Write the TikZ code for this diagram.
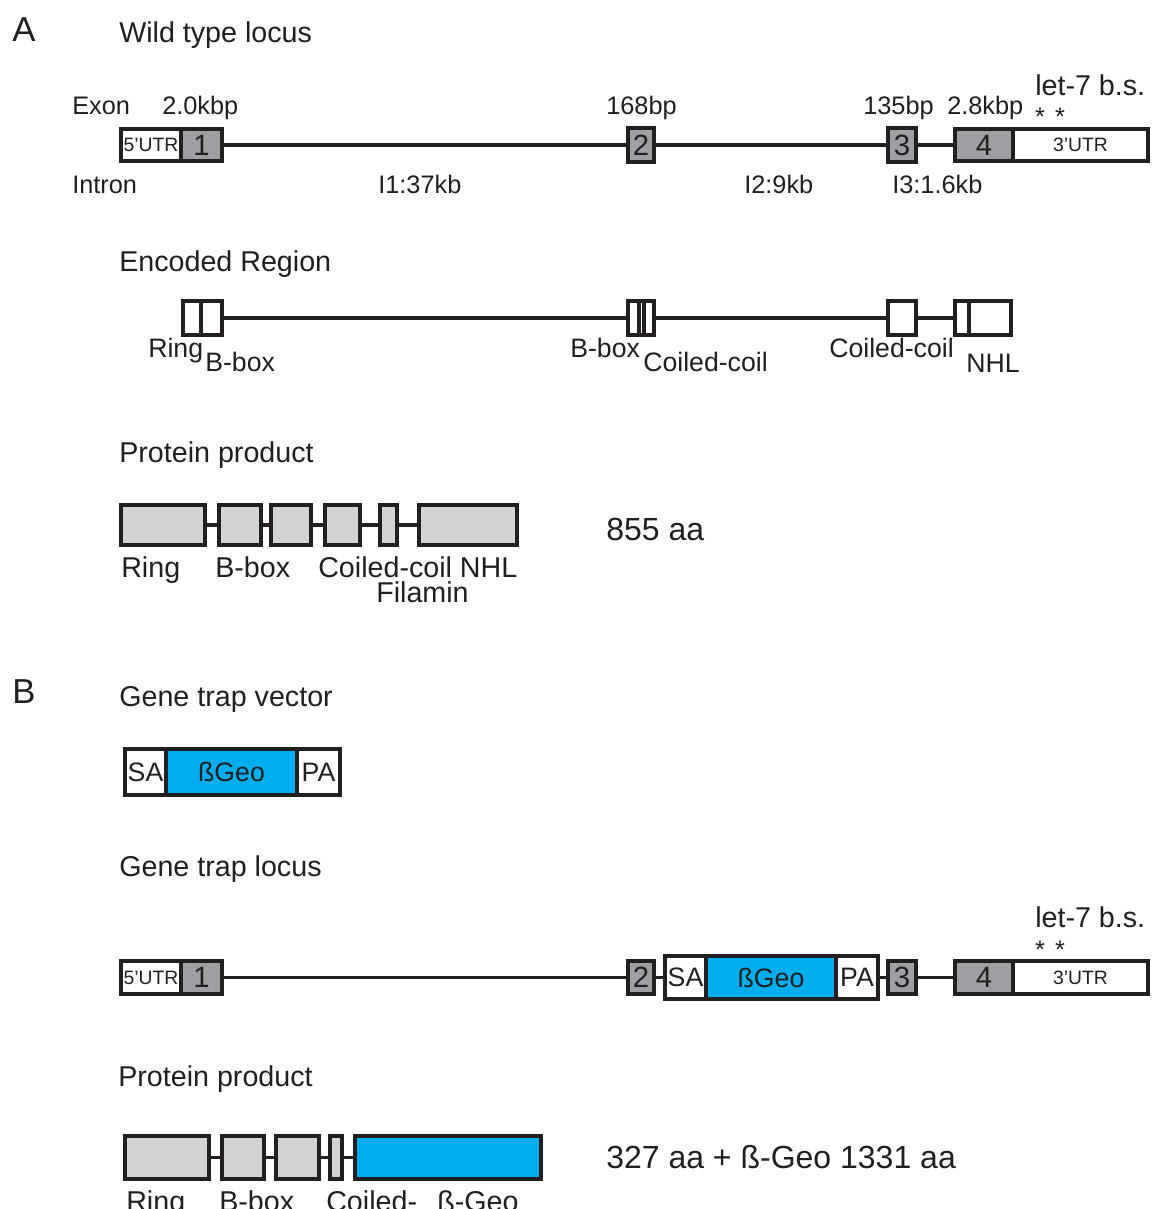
\documentclass[tikz,border=0pt]{standalone}
\usepackage{fontspec}
\setmainfont{Liberation Sans}
\definecolor{ink}{RGB}{35,31,32}
\definecolor{exg}{RGB}{157,159,162}
\definecolor{prg}{RGB}{209,211,212}
\definecolor{geo}{RGB}{0,174,239}
\newcommand\BX[7]{\node[#1,minimum width={(#4-#3)*0.75pt},minimum height={(#6-#5)*0.75pt}] (#2) at ({(#3+#4)/2},{(#5+#6)/2}) {#7};}
\begin{document}
\begin{tikzpicture}[x=0.75pt,y=-0.75pt,
  box/.style={rectangle, draw=ink, line width=3pt, inner sep=0pt, outer sep=0pt, text=ink},
  exon/.style={box, fill=exg, font=\fontsize{22}{24}\selectfont},
  utr/.style={box, fill=white, font=\fontsize{14.5}{16}\selectfont},
  dom/.style={box, fill=white},
  prot/.style={box, fill=prg},
  geobox/.style={box, fill=geo, font=\fontsize{20}{22}\selectfont},
  vtx/.style={box, fill=white, font=\fontsize{20}{22}\selectfont},
  conn/.style={draw=ink, line width=2.4pt},
  txt/.style={anchor=base west, inner sep=0pt, text=ink},
  sm/.style={txt, font=\fontsize{19}{22}\selectfont},
  md/.style={txt, font=\fontsize{20}{23}\selectfont},
  tt/.style={txt, font=\fontsize{21.5}{25}\selectfont},
  big/.style={txt, font=\fontsize{24}{28}\selectfont},
  panel/.style={txt, font=\fontsize{26}{30}\selectfont},
  star/.style={anchor=base, inner sep=0pt, text=ink, font=\fontsize{19}{22}\selectfont}]
\useasboundingbox[fill=white] (0,0) rectangle (1153,1209);

% ---------------- Panel A ----------------
\node[panel] (lA) at (12,42) {A};
\node[tt] (tWT) at (119,43) {Wild type locus};

\node[sm] (tExon) at (72,115) {Exon};
\node[sm] (t20) at (162,115) {2.0kbp};
\node[sm] (t168) at (606,115) {168bp};
\node[sm] (t135) at (863,115) {135bp};
\node[sm] (t28) at (947,115) {2.8kbp};
\node[tt] (tlet) at (1035,96) {let-7 b.s.};
\node[star] (sA) at (1050,126) {*\hspace{0.4em}*};

\BX{utr}{u5a}{121}{181}{129}{161}{5’UTR}
\BX{exon}{e1a}{181}{222}{129}{161}{1}
\BX{exon}{e2a}{628}{654}{128}{162}{2}
\BX{exon}{e3a}{888}{916}{128}{162}{3}
\BX{exon}{e4a}{955}{1013}{129}{161}{4}
\BX{utr}{u3a}{1013}{1148}{129}{161}{3’UTR}
\draw[conn] (e1a.east) -- (e2a.west);
\draw[conn] (e2a.east) -- (e3a.west);
\draw[conn] (e3a.east) -- (e4a.west);

\node[sm] (tIntron) at (72,193) {Intron};
\node[sm] (tI1) at (378,193) {I1:37kb};
\node[sm] (tI2) at (744,193) {I2:9kb};
\node[sm] (tI3) at (892,193) {I3:1.6kb};

% Encoded region
\node[tt] (tEnc) at (119,271) {Encoded Region};
\BX{dom}{dR}{183}{201}{301}{335}{}
\BX{dom}{dB1}{201}{222}{301}{335}{}
\BX{dom}{dB2}{628}{638.5}{301}{335}{}
\BX{dom}{dM}{638.5}{644}{301}{335}{}
\BX{dom}{dC1}{644}{654}{301}{335}{}
\BX{dom}{dC2}{888}{916}{301}{335}{}
\BX{dom}{dN1}{955}{969}{301}{335}{}
\BX{dom}{dN2}{969}{1011}{301}{335}{}
\draw[conn] (dB1.east) -- (dB2.west);
\draw[conn] (dC1.east) -- (dC2.west);
\draw[conn] (dC2.east) -- (dN1.west);

\node[md] (eRing) at (148,357) {Ring};
\node[md] (eBbox) at (205,371) {B-box};
\node[md] (eBbox2) at (570,357) {B-box};
\node[md] (eCC) at (643,371) {Coiled-coil};
\node[md] (eCC2) at (829,357) {Coiled-coil};
\node[md] (eNHL) at (966,372) {NHL};

% Protein product A
\node[tt] (tPP) at (119,462) {Protein product};
\BX{prot}{pR}{121}{205}{505}{545}{}
\BX{prot}{pB1}{219}{261}{505}{545}{}
\BX{prot}{pB2}{271}{311}{505}{545}{}
\BX{prot}{pC}{325}{360}{505}{545}{}
\BX{prot}{pF}{380}{397}{505}{545}{}
\BX{prot}{pN}{419}{517}{505}{545}{}
\draw[conn] (pR.east) -- (pB1.west);
\draw[conn] (pB1.east) -- (pB2.west);
\draw[conn] (pB2.east) -- (pC.west);
\draw[conn] (pC.east) -- (pF.west);
\draw[conn] (pF.east) -- (pN.west);
\node[tt] (lpR) at (121,577) {Ring};
\node[tt] (lpB) at (215,577) {B-box};
\node[tt] (lpC) at (318,577) {Coiled-coil NHL};
\node[tt] (lpF) at (376,602) {Filamin};
\node[big] (t855) at (606,540) {855 aa};

% ---------------- Panel B ----------------
\node[panel] (lB) at (12,703) {B};
\node[tt] (tGTV) at (119,706) {Gene trap vector};
\BX{vtx}{vSA}{125}{166}{749}{795}{SA}
\BX{geobox}{vGeo}{166}{297}{749}{795}{ßGeo}
\BX{vtx}{vPA}{297}{340}{749}{795}{PA}

\node[tt] (tGTL) at (119,876) {Gene trap locus};
\node[tt] (tlet2) at (1035,927) {let-7 b.s.};
\node[star] (sB) at (1050,958) {*\hspace{0.4em}*};

\BX{utr}{u5b}{121}{181}{961}{994}{5’UTR}
\BX{exon}{e1b}{181}{222}{961}{994}{1}
\BX{exon}{e2b}{628}{654}{961}{994}{2}
\BX{vtx}{tSA}{665}{706}{956}{999}{SA}
\BX{geobox}{tGeo}{706}{836}{956}{999}{ßGeo}
\BX{vtx}{tPA}{836}{878}{956}{999}{PA}
\BX{exon}{e3b}{888}{916}{961}{994}{3}
\BX{exon}{e4b}{955}{1013}{961}{994}{4}
\BX{utr}{u3b}{1013}{1148}{961}{994}{3’UTR}
\draw[conn] (e1b.east) -- (e2b.west);
\draw[conn] (e2b.east) -- (tSA.west);
\draw[conn] (tPA.east) -- (e3b.west);
\draw[conn] (e3b.east) -- (e4b.west);

% Protein product B
\node[tt] (tPP2) at (118,1086) {Protein product};
\BX{prot}{qR}{125}{209}{1136}{1179}{}
\BX{prot}{qB1}{222}{264}{1136}{1179}{}
\BX{prot}{qB2}{276}{319}{1136}{1179}{}
\BX{prot}{qC}{330}{342}{1136}{1179}{}
\BX{geobox}{qG}{355}{541}{1136}{1179}{}
\draw[conn] (qR.east) -- (qB1.west);
\draw[conn] (qB1.east) -- (qB2.west);
\draw[conn] (qB2.east) -- (qC.west);
\draw[conn] (qC.east) -- (qG.west);
\node[tt] (lqR) at (126,1211) {Ring};
\node[tt] (lqB) at (219,1211) {B-box};
\node[tt] (lqC) at (326,1211) {Coiled-};
\node[tt] (lqG) at (437,1211) {ß-Geo};
\node[big] (t327) at (606,1168) {327 aa + ß-Geo 1331 aa};
\end{tikzpicture}
\end{document}
